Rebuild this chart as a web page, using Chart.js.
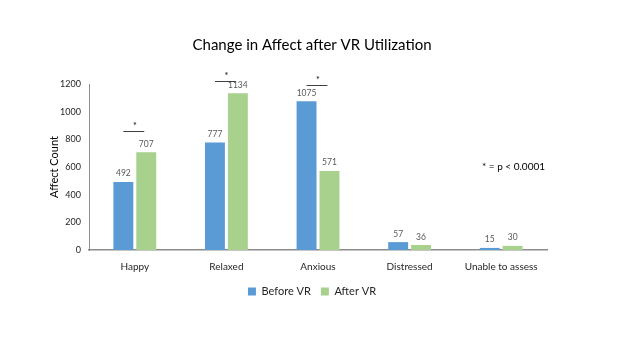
<!DOCTYPE html>
<html>
<head>
<meta charset="utf-8">
<script src="https://cdn.jsdelivr.net/npm/chart.js@4.4.1/dist/chart.umd.min.js"></script>
<style>
  html, body { margin: 0; padding: 0; background: #fff; }
  #wrap { width: 624px; height: 351px; }
</style>
</head>
<body>
<div id="wrap"><canvas id="affect-chart" width="624" height="351"></canvas></div>
<script>
const categories = ['Happy', 'Relaxed', 'Anxious', 'Distressed', 'Unable to assess'];
const beforeVR = [492, 777, 1075, 57, 15];
const afterVR = [707, 1134, 571, 36, 30];
// significance bars: category index and the height (in counts) of the bar
const sigCategories = [0, 1, 2];
const sigLevels = [860, 1220, 1195];
const yTicks = [0, 200, 400, 600, 800, 1000, 1200];

const font = "Lato, 'Open Sans', sans-serif";

// value labels, significance lines and the p-value note
const annotations = {
    id: 'annotations',
    afterDatasetsDraw(chart) {
        const ctx = chart.ctx;
        const y = chart.scales.y;
        ctx.save();
        ctx.font = '8.5px ' + font;
        ctx.fillStyle = '#595959';
        ctx.textAlign = 'center';
        ctx.textBaseline = 'bottom';
        chart.data.datasets.forEach((ds, i) => {
            chart.getDatasetMeta(i).data.forEach((bar, j) => {
                ctx.fillText(ds.data[j], bar.x, bar.y - 4);
            });
        });

        ctx.strokeStyle = '#404040';
        ctx.lineWidth = 1;
        ctx.fillStyle = '#000';
        sigCategories.forEach((c, k) => {
            const b1 = chart.getDatasetMeta(0).data[c];
            const b2 = chart.getDatasetMeta(1).data[c];
            const ly = Math.round(y.getPixelForValue(sigLevels[k])) + 0.5;
            ctx.beginPath();
            ctx.moveTo(b1.x, ly);
            ctx.lineTo(b2.x - 2, ly);
            ctx.stroke();
            ctx.font = '9px ' + font;
            ctx.fillText('*', (b1.x + b2.x) / 2, ly - 1);
        });

        ctx.font = '10px ' + font;
        ctx.textAlign = 'left';
        ctx.textBaseline = 'middle';
        ctx.fillText('* = p < 0.0001', 482, y.getPixelForValue(600));
        ctx.restore();
    }
};

new Chart(document.getElementById('affect-chart').getContext('2d'), {
    type: 'bar',
    data: {
        labels: categories,
        datasets: [
            {
                label: 'Before VR',
                data: beforeVR,
                backgroundColor: '#5B9BD5',
                barPercentage: 0.87,
                categoryPercentage: 0.5
            },
            {
                label: 'After VR',
                data: afterVR,
                backgroundColor: '#A9D18E',
                barPercentage: 0.87,
                categoryPercentage: 0.5
            }
        ]
    },
    options: {
        responsive: false,
        animation: false,
        layout: { padding: { left: 0, right: 0, top: 0, bottom: 44 } },
        plugins: {
            title: {
                display: true,
                text: 'Change in Affect after VR Utilization',
                color: '#000',
                font: { family: font, size: 15, weight: 'normal' },
                padding: { top: 36, bottom: 30 }
            },
            legend: {
                position: 'bottom',
                labels: {
                    boxWidth: 8,
                    boxHeight: 8,
                    color: '#262626',
                    font: { family: font, size: 11 },
                    padding: 10
                }
            },
            tooltip: { enabled: false }
        },
        scales: {
            x: {
                grid: { display: false },
                border: { color: '#8c8c8c', width: 1.5 },
                ticks: { color: '#262626', font: { family: font, size: 10 }, padding: 3 }
            },
            y: {
                min: 0,
                max: 1200,
                afterBuildTicks(axis) { axis.ticks = yTicks.map(v => ({ value: v })); },
                afterFit(axis) { axis.width = 89; },
                grid: { display: false, drawTicks: false },
                border: { color: '#8c8c8c' },
                ticks: {
                    color: '#262626',
                    font: { family: font, size: 9 },
                    padding: 8,
                    callback: v => String(v)
                },
                title: {
                    display: true,
                    text: 'Affect Count',
                    color: '#000',
                    font: { family: font, size: 11 },
                    padding: { top: 48, bottom: 4 }
                }
            },
            // empty right-hand axis that only reserves the right margin
            yRight: {
                position: 'right',
                min: 0,
                max: 1200,
                afterFit(axis) { axis.width = 77; },
                grid: { display: false },
                border: { display: false },
                ticks: { display: false }
            }
        }
    },
    plugins: [annotations]
});
</script>
</body>
</html>
